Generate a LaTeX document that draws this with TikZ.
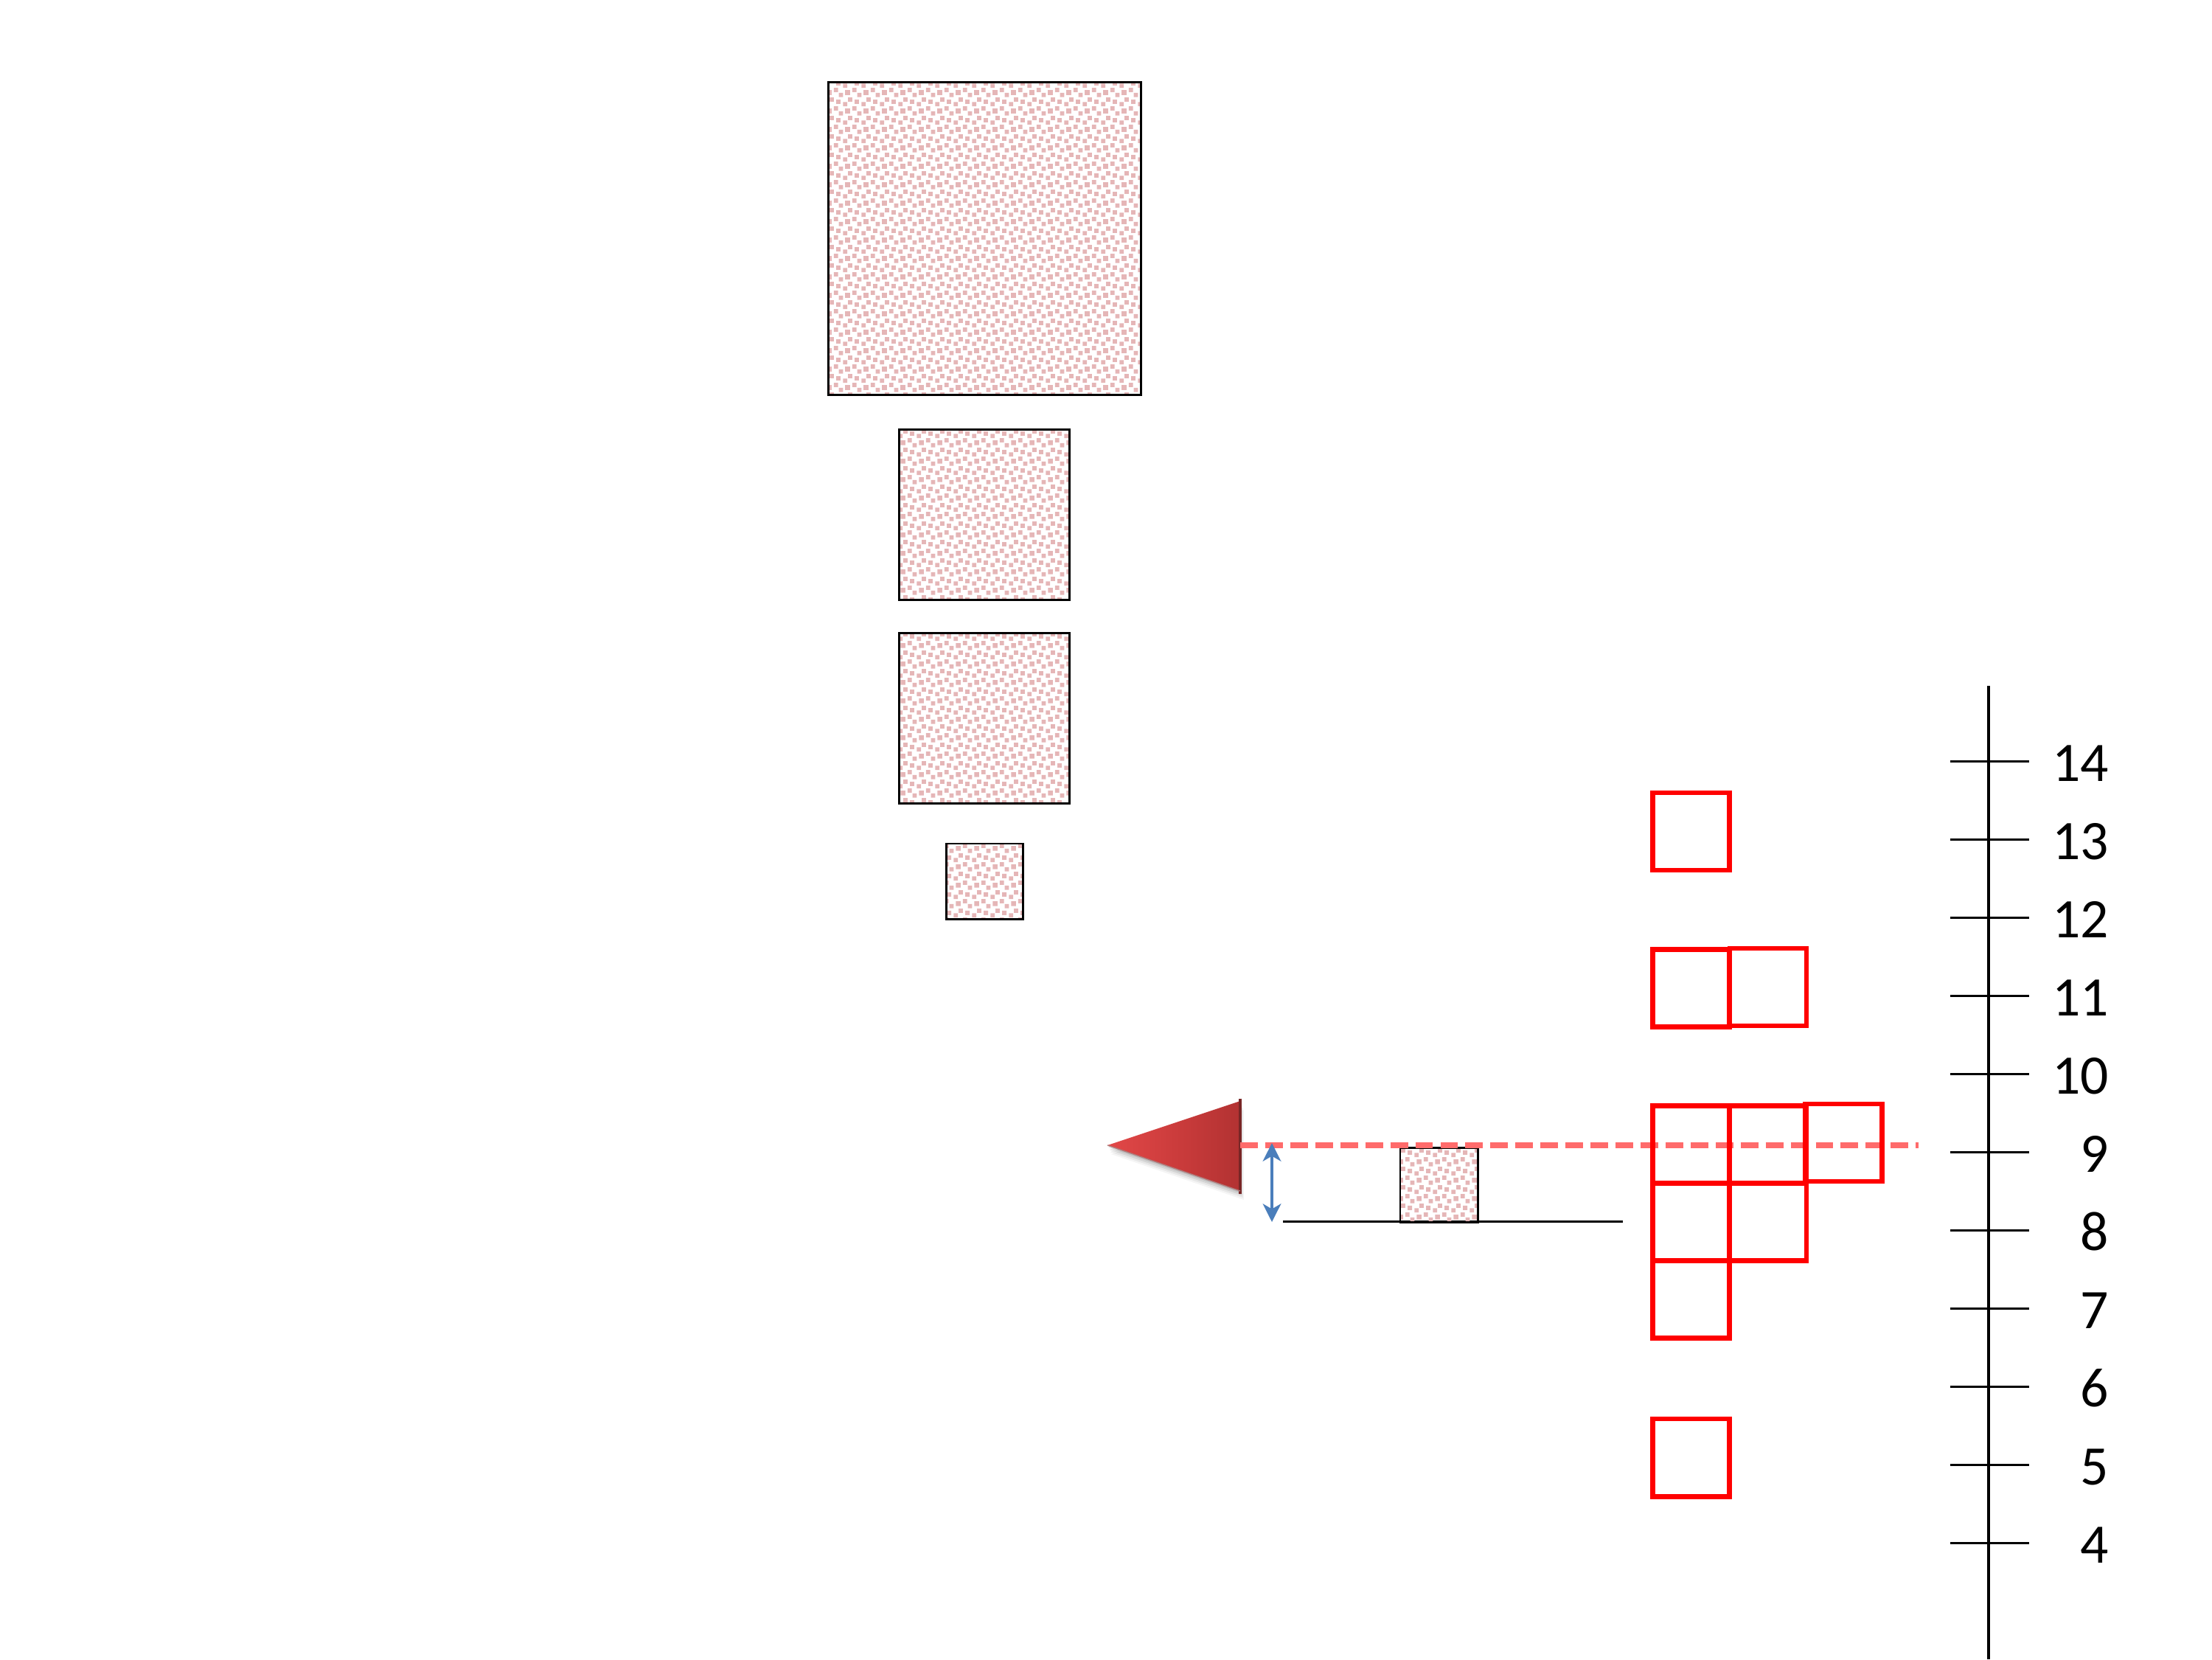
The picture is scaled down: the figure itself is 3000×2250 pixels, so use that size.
\documentclass[tikz,border=0pt]{standalone}
\usepackage{fontspec}
\setmainfont{Carlito}
\usetikzlibrary{patterns,arrows.meta}
\definecolor{confpink}{RGB}{229,182,183}
\definecolor{dashred}{RGB}{255,107,107}
\definecolor{arrowblue}{RGB}{74,126,187}
\definecolor{trilight}{RGB}{226,72,72}
\definecolor{trimid}{RGB}{204,60,60}
\definecolor{tridark}{RGB}{178,50,50}
\definecolor{tririm}{RGB}{120,38,38}
\pgfdeclarepatternformonly{confetti}{\pgfpointorigin}{\pgfpoint{7.1125pt}{7.1125pt}}{\pgfpoint{7.1125pt}{7.1125pt}}{%
  \pgfpathrectangle{\pgfpoint{1.707pt}{0pt}}{\pgfpoint{1.707pt}{1.707pt}}%
  \pgfpathrectangle{\pgfpoint{6.26pt}{6.26pt}}{\pgfpoint{1.707pt}{1.707pt}}%
  \pgfpathrectangle{\pgfpoint{-0.85pt}{6.26pt}}{\pgfpoint{1.707pt}{1.707pt}}%
  \pgfpathrectangle{\pgfpoint{6.26pt}{-0.85pt}}{\pgfpoint{1.707pt}{1.707pt}}%
  \pgfpathrectangle{\pgfpoint{-0.85pt}{-0.85pt}}{\pgfpoint{1.707pt}{1.707pt}}%
  \pgfpathrectangle{\pgfpoint{5.406pt}{1.707pt}}{\pgfpoint{1.707pt}{1.707pt}}%
  \pgfpathrectangle{\pgfpoint{2.70pt}{2.70pt}}{\pgfpoint{1.707pt}{1.707pt}}%
  \pgfpathrectangle{\pgfpoint{0pt}{3.556pt}}{\pgfpoint{1.707pt}{1.707pt}}%
  \pgfpathrectangle{\pgfpoint{3.70pt}{5.406pt}}{\pgfpoint{1.707pt}{1.707pt}}%
  \pgfusepath{fill}%
}
\tikzset{
  confbox/.style={draw=black, line width=0.85pt, pattern=confetti, pattern color=confpink, inner sep=0pt, outer sep=0pt},
  redbox/.style={draw=red, line width=1.95pt, minimum width=1.04cm, minimum height=1.05cm, inner sep=0pt, outer sep=0pt},
  axtick/.style={line width=0.9pt, black},
  ticklabel/.style={anchor=base east, inner sep=0pt, outer sep=0pt, font=\fontsize{21.5}{25}\selectfont},
  dashline/.style={dashred, line width=2.28pt, dash pattern=on 6.8pt off 2.85pt},
  twoarrow/.style={arrowblue, line width=1.1pt, {Stealth[length=7pt,width=7pt,inset=2pt]}-{Stealth[length=7pt,width=7pt,inset=2pt]}},
}
\begin{document}
\begin{tikzpicture}[x=0.01cm, y=-0.01cm]
\useasboundingbox (0,0) rectangle (3000,2250);
% patterned squares
\node[confbox, minimum width=4.23cm, minimum height=4.23cm] (b1) at (1335.5,323.5) {};
\node[confbox, minimum width=2.30cm, minimum height=2.30cm] (b2) at (1335,698) {};
\node[confbox, minimum width=2.30cm, minimum height=2.30cm] (b3) at (1335,974) {};
\node[confbox, minimum width=1.03cm, minimum height=1.02cm] (b4) at (1335.5,1195) {};
% base line and small square
\coordinate (basel) at (1740,1656);
\coordinate (baser) at (2201,1656);
\draw[black, line width=0.85pt] (basel) -- (baser);
\node[confbox, minimum width=1.05cm, minimum height=1.01cm] (b5) at (1951.5,1606.5) {};
% triangle
\coordinate (tip) at (1502,1553);
\coordinate (ttop) at (1682,1493);
\coordinate (tbot) at (1682,1615);
\coordinate (tright) at (1682,1553);
\foreach \o/\a in {3/0.10,6/0.08,9/0.06,12/0.04}{
  \fill[black, opacity=\a] ([shift={(\o*0.4,\o)}]tip) -- ([shift={(\o*0.4,\o)}]ttop) -- ([shift={(\o*0.4,\o)}]tbot) -- cycle;
}
\shade[left color=trilight, right color=tridark, middle color=trimid] (tip) -- (ttop) -- (tbot) -- cycle;
\draw[tririm, line width=1pt] ([yshift=1]ttop) -- ([yshift=-1]tbot);
\draw[tririm!60, line width=0.4pt] (tip) -- (tbot);
% dashed line
\coordinate (dend) at (2602,1553);
\draw[dashline] (tright) -- (dend);
% double arrow
\coordinate (atop) at (1725,1550);
\coordinate (abot) at (1725,1657);
\draw[twoarrow] (atop) -- (abot);
% red squares
\node[redbox] (r13) at (2293.5,1127.5) {};
\node[redbox] (r11a) at (2293.5,1340) {};
\node[redbox] (r11b) at (2398,1338.5) {};
\node[redbox] (r9a) at (2293.5,1552) {};
\node[redbox] (r9b) at (2398,1552) {};
\node[redbox] (r9c) at (2500.5,1549.5) {};
\node[redbox] (r8a) at (2293.5,1657) {};
\node[redbox] (r8b) at (2398,1657) {};
\node[redbox] (r7a) at (2293.5,1762) {};
\node[redbox] (r5) at (2293.5,1976.5) {};
% axis
\coordinate (axtop) at (2697,930);
\coordinate (axbot) at (2697,2250);
\draw[black, line width=1pt] (axtop) -- (axbot);
\foreach \v in {4,...,14}{
  \pgfmathsetmacro\ty{1032.6+(14-\v)*106}
  \coordinate (tl\v) at (2645,\ty);
  \coordinate (tr\v) at (2752,\ty);
  \draw[axtick] (tl\v) -- (tr\v);
  \node[ticklabel] (lab\v) at (2860,\ty+26.5) {\v};
}
\end{tikzpicture}
\end{document}
